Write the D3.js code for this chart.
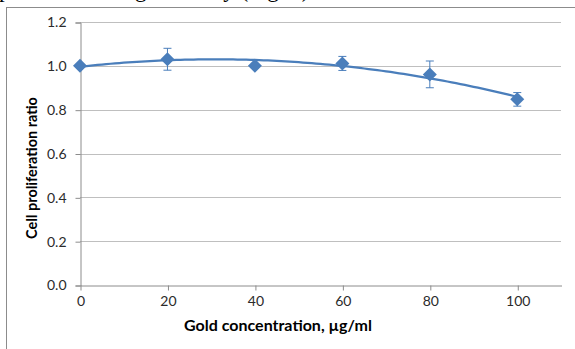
<!DOCTYPE html>
<html>
<head>
<meta charset="utf-8">
<script src="https://cdn.jsdelivr.net/npm/d3@7"></script>
<style>
  body { margin: 0; background: #fff; }
  svg { display: block; }
  .tick-label { font-family: Lato, 'Open Sans', sans-serif; font-size: 14px; fill: #2b2b2b; }
  .axis-title { font-family: Lato, 'Open Sans', sans-serif; font-weight: bold; fill: #000; }
</style>
</head>
<body>
<div id="chart"></div>
<script>
// data
const concentrations = [0, 20, 40, 60, 80, 100];
const ratios = [1.0, 1.030, 1.0, 1.011, 0.961, 0.847];
const errors = [0, 0.05, 0.01, 0.032, 0.061, 0.031];
const xTicks = [0, 20, 40, 60, 80, 100];
const yTicks = [0, 0.2, 0.4, 0.6, 0.8, 1.0, 1.2];

const width = 575, height = 349;
const margin = { top: 22, right: 14, bottom: 64, left: 80 };
const blue = '#4a7ebb';

const svg = d3.select('#chart').append('svg')
  .attr('width', width)
  .attr('height', height);

// cut-off text line from the page above the figure
svg.append('text')
  .attr('x', -1)
  .attr('y', -3)
  .style('font-family', "'Liberation Serif', serif")
  .style('font-size', '23px')
  .text('proliferation significantly (Fig. 3). Activation of cells');

// figure frame
svg.append('rect')
  .attr('x', 6.5)
  .attr('y', 7.5)
  .attr('width', 700)
  .attr('height', 400)
  .attr('fill', 'none')
  .attr('stroke', '#8c8c8c');

const x = d3.scaleLinear().domain([0, 110]).range([margin.left, width - margin.right]);
const y = d3.scaleLinear().domain([0, 1.2]).range([height - margin.bottom, margin.top]);

// horizontal gridlines
svg.append('g')
  .selectAll('line')
  .data(yTicks.filter(d => d > 0))
  .enter().append('line')
  .attr('x1', x(0))
  .attr('x2', x(110))
  .attr('y1', d => Math.round(y(d)) + 0.5)
  .attr('y2', d => Math.round(y(d)) + 0.5)
  .attr('stroke', '#bfbfbf');

// y axis
const yAxis = svg.append('g')
  .attr('transform', `translate(${Math.round(x(0)) + 0.5},0.5)`)
  .call(d3.axisLeft(y).tickValues(yTicks).tickSize(5).tickPadding(9).tickFormat(d3.format('.1f')));
yAxis.select('.domain').attr('stroke', '#8c8c8c');
yAxis.selectAll('.tick line').attr('stroke', '#8c8c8c');
yAxis.selectAll('.tick text').attr('class', 'tick-label').attr('fill', null);

// x axis
const xAxis = svg.append('g')
  .attr('transform', `translate(0.5,${Math.round(y(0)) + 0.5})`)
  .call(d3.axisBottom(x).tickValues(xTicks).tickSize(5).tickPadding(6).tickSizeOuter(0));
xAxis.select('.domain').attr('stroke', '#8c8c8c');
xAxis.selectAll('.tick line').attr('stroke', '#8c8c8c');
xAxis.selectAll('.tick text').attr('class', 'tick-label').attr('fill', null);
svg.selectAll('g').attr('font-size', null).attr('font-family', null);

// axis titles
svg.append('text')
  .attr('class', 'axis-title')
  .attr('x', 278)
  .attr('y', 331)
  .attr('text-anchor', 'middle')
  .style('font-size', '16px')
  .text('Gold concentration, µg/ml');

svg.append('text')
  .attr('class', 'axis-title')
  .attr('transform', 'translate(37,168) rotate(-90)')
  .attr('text-anchor', 'middle')
  .style('font-size', '14.5px')
  .text('Cell proliferation ratio');

// 2nd order polynomial trendline (least squares, like the spreadsheet)
function polyFit2(xs, ys) {
  const n = xs.length;
  let s = [0, 0, 0, 0, 0], t = [0, 0, 0];
  for (let i = 0; i < n; i++) {
    for (let k = 0; k <= 4; k++) s[k] += Math.pow(xs[i], k);
    for (let k = 0; k <= 2; k++) t[k] += ys[i] * Math.pow(xs[i], k);
  }
  const M = [[s[0], s[1], s[2], t[0]], [s[1], s[2], s[3], t[1]], [s[2], s[3], s[4], t[2]]];
  for (let c = 0; c < 3; c++) {
    for (let r = c + 1; r < 3; r++) {
      const f = M[r][c] / M[c][c];
      for (let k = c; k < 4; k++) M[r][k] -= f * M[c][k];
    }
  }
  const coef = [0, 0, 0];
  for (let r = 2; r >= 0; r--) {
    let v = M[r][3];
    for (let k = r + 1; k < 3; k++) v -= M[r][k] * coef[k];
    coef[r] = v / M[r][r];
  }
  return coef;
}
const coef = polyFit2(concentrations, ratios);
const trend = d3.range(0, 100.5, 1).map(c => [c, coef[0] + coef[1] * c + coef[2] * c * c]);

svg.append('path')
  .datum(trend)
  .attr('fill', 'none')
  .attr('stroke', blue)
  .attr('stroke-width', 2.25)
  .attr('d', d3.line().x(d => x(d[0])).y(d => y(d[1])));

// error bars
const points = concentrations.map((c, i) => ({ c, v: ratios[i], e: errors[i] }));
const eb = svg.append('g').attr('stroke', blue).attr('stroke-width', 1);
points.filter(d => d.e > 0).forEach(d => {
  const cx = x(d.c);
  eb.append('line').attr('x1', cx).attr('x2', cx).attr('y1', y(d.v + d.e)).attr('y2', y(d.v - d.e));
  eb.append('line').attr('x1', cx - 4).attr('x2', cx + 4).attr('y1', y(d.v + d.e)).attr('y2', y(d.v + d.e));
  eb.append('line').attr('x1', cx - 4).attr('x2', cx + 4).attr('y1', y(d.v - d.e)).attr('y2', y(d.v - d.e));
});

// diamond markers
svg.append('g')
  .selectAll('path')
  .data(points)
  .enter().append('path')
  .attr('transform', d => `translate(${x(d.c)},${y(d.v)})`)
  .attr('d', 'M0,-7L7,0L0,7L-7,0Z')
  .attr('fill', blue);
</script>
</body>
</html>
